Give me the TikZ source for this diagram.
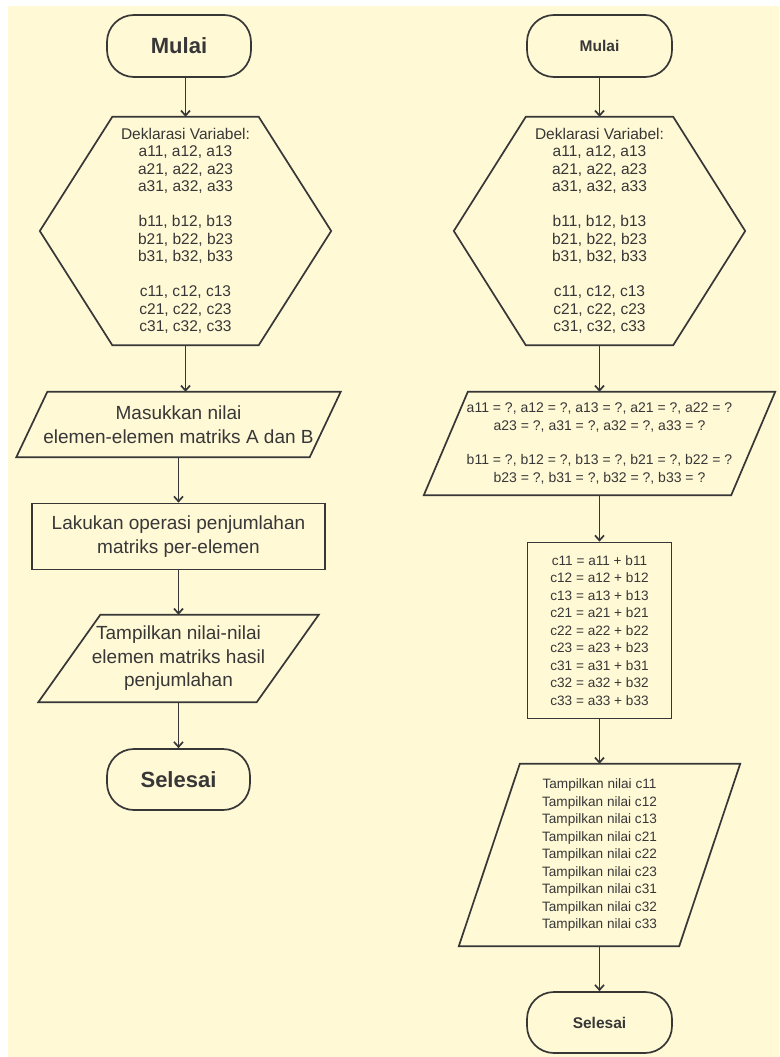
\documentclass[tikz,border=0pt]{standalone}
\usepackage{fontspec}
\setmainfont{Liberation Sans}
\usetikzlibrary{arrows.meta}

\definecolor{paper}{RGB}{255,249,214}
\definecolor{ink}{RGB}{55,55,55}

% outline of a parallelogram round a node: name, half slant
\newcommand\paraline[2]{%
  \draw [outline] ([xshift=#2]#1.north west) -- ([xshift=#2]#1.north east)
    -- ([xshift=-#2]#1.south east) -- ([xshift=-#2]#1.south west) -- cycle;}
% outline of a hexagon round a node: name, point depth
\newcommand\hexline[2]{%
  \draw [outline] (#1.north west) -- (#1.north east) -- ([xshift=#2]#1.east)
    -- (#1.south east) -- (#1.south west) -- ([xshift=-#2]#1.west) -- cycle;}

\begin{document}
\begin{tikzpicture}
    [ x = 1pt, y = -1pt
    , outline/.style =
      { draw = ink, line width = 1.7pt, line join = miter }
    , terminal/.style =
      { outline, rounded corners = 27pt, inner sep = 0pt, text = ink }
    , box/.style =
      { inner sep = 0pt, align = center, text = ink }
    , process/.style =
      { box, outline }
    , arrow/.style =
      { draw = ink, line width = 1.7pt, -{Straight Barb[length=5pt,width=9pt]} }
    , bigfont/.style =
      { font = \fontsize{19}{23.5}\selectfont }
    , hexfont/.style =
      { font = \fontsize{15.5}{17.5}\selectfont }
    , smallfont/.style =
      { font = \fontsize{13.6}{17.5}\selectfont }
    ]
    \useasboundingbox (0,0) rectangle (779,1057);
    \fill [white] (0,0) rectangle (779,1057);
    \fill [paper] (8,6) rectangle (779,1057);

    % left: short flowchart
    \node [terminal, minimum width = 144pt, minimum height = 62pt,
      font = \fontsize{22}{26}\selectfont\bfseries] (mulaiL) at (179,46) {Mulai};
    \node [box, hexfont, minimum width = 146pt, minimum height = 228pt] (hexL) at (185.5,231)
      {Deklarasi Variabel:\\ a11, a12, a13\\ a21, a22, a23\\ a31, a32, a33\\[17.5pt]
       b11, b12, b13\\ b21, b22, b23\\ b31, b32, b33\\[17.5pt]
       c11, c12, c13\\ c21, c22, c23\\ c31, c32, c33};
    \node [box, bigfont, minimum width = 293pt, minimum height = 65pt] (inL) at (178.5,424.5)
      {Masukkan nilai\\ elemen-elemen matriks A dan B};
    \node [process, bigfont, minimum width = 293pt, minimum height = 66pt] (procL) at (178.5,536.5)
      {Lakukan operasi penjumlahan\\ matriks per-elemen};
    \node [box, bigfont, minimum width = 218pt, minimum height = 87pt] (outL) at (178.5,658.5)
      {Tampilkan nilai-nilai\\ elemen matriks hasil\\ penjumlahan};
    \node [terminal, minimum width = 143pt, minimum height = 61pt,
      font = \fontsize{22}{26}\selectfont\bfseries] (selesaiL) at (178.5,779.5) {Selesai};

    \hexline{hexL}{72.5pt}
    \paraline{inL}{15.5pt}
    \paraline{outL}{31pt}

    \draw [arrow] (mulaiL.south -| hexL.north) -- (hexL.north);
    \draw [arrow] (hexL.south) -- (hexL.south |- inL.north);
    \draw [arrow] (inL.south) -- (procL.north);
    \draw [arrow] (procL.south) -- (outL.north);
    \draw [arrow] (outL.south) -- (selesaiL.north);

    % right: detailed flowchart
    \node [terminal, minimum width = 145pt, minimum height = 62pt,
      font = \fontsize{15.5}{18}\selectfont\bfseries] (mulaiR) at (599.5,46) {Mulai};
    \node [box, hexfont, minimum width = 147pt, minimum height = 228pt] (hexR) at (599.5,231)
      {Deklarasi Variabel:\\ a11, a12, a13\\ a21, a22, a23\\ a31, a32, a33\\[17.5pt]
       b11, b12, b13\\ b21, b22, b23\\ b31, b32, b33\\[17.5pt]
       c11, c12, c13\\ c21, c22, c23\\ c31, c32, c33};
    \node [box, font = \fontsize{14}{17.3}\selectfont, minimum width = 307pt,
      minimum height = 103pt] (inR) at (599.5,443.5)
      {a11 = ?, a12 = ?, a13 = ?, a21 = ?, a22 = ?\\ a23 = ?, a31 = ?, a32 = ?, a33 = ?\\[17.3pt]
       b11 = ?, b12 = ?, b13 = ?, b21 = ?, b22 = ?\\ b23 = ?, b31 = ?, b32 = ?, b33 = ?};
    \node [process, smallfont, minimum width = 144pt, minimum height = 176pt] (procR) at (599.5,630.5)
      {c11 = a11 + b11\\ c12 = a12 + b12\\ c13 = a13 + b13\\
       c21 = a21 + b21\\ c22 = a22 + b22\\ c23 = a23 + b23\\
       c31 = a31 + b31\\ c32 = a32 + b32\\ c33 = a33 + b33};
    \node [box, smallfont, minimum width = 220pt, minimum height = 182pt] (outR) at (599.5,855)
      {Tampilkan nilai c11\\ Tampilkan nilai c12\\ Tampilkan nilai c13\\
       Tampilkan nilai c21\\ Tampilkan nilai c22\\ Tampilkan nilai c23\\
       Tampilkan nilai c31\\ Tampilkan nilai c32\\ Tampilkan nilai c33};
    \node [terminal, minimum width = 145pt, minimum height = 61pt,
      font = \fontsize{15.5}{18}\selectfont\bfseries] (selesaiR) at (599.5,1022.5) {Selesai};

    \hexline{hexR}{72pt}
    \paraline{inR}{22pt}
    \paraline{outR}{30.5pt}

    \draw [arrow] (mulaiR.south) -- (hexR.north);
    \draw [arrow] (hexR.south) -- (inR.north);
    \draw [arrow] (inR.south) -- (procR.north);
    \draw [arrow] (procR.south) -- (outR.north);
    \draw [arrow] (outR.south) -- (selesaiR.north);
  \end{tikzpicture}
\end{document}
